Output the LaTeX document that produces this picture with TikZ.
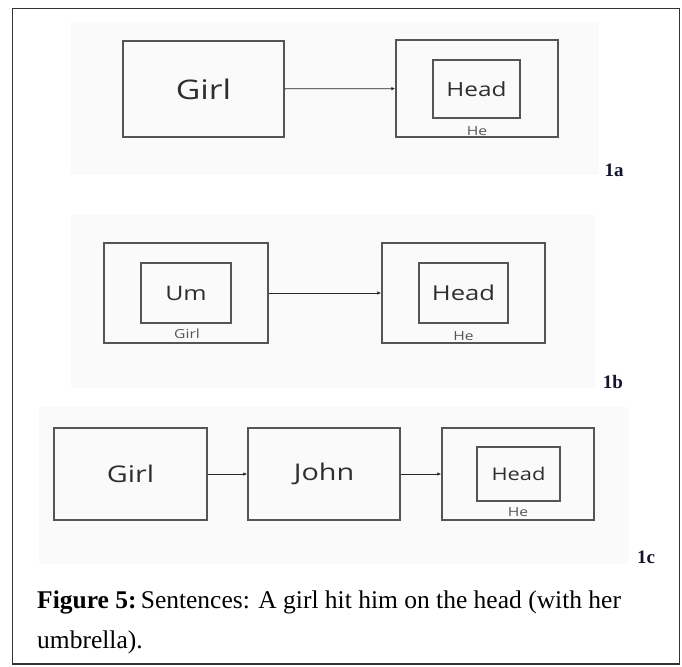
\documentclass[tikz,border=0pt]{standalone}
\usepackage{fontspec}
\setmainfont{Liberation Serif}
\newfontfamily\boxfont[FakeStretch=1.25]{Open Sans}
\usetikzlibrary{arrows.meta}
\definecolor{boxgray}{HTML}{555555}
\definecolor{txtgray}{HTML}{2E2E2E}
\definecolor{lblgray}{HTML}{555555}
\definecolor{panelgray}{HTML}{FAFAFA}
\definecolor{navy}{HTML}{14142E}

\begin{document}
\begin{tikzpicture}[
    x=1pt, y=-1pt,
    panel/.style={fill=panelgray},
    box/.style={
        rectangle,
        draw=boxgray,
        line width=1.5pt,
        inner sep=0pt,
        text=txtgray,
    },
    word/.style={box, font=\boxfont\fontsize{#1}{#1}\selectfont},
    sub/.style={inner sep=0pt, text=lblgray, font=\boxfont\fontsize{12.5}{12.5}\selectfont},
    tag/.style={inner sep=0pt, text=navy, font=\bfseries\fontsize{19}{19}\selectfont},
    arr/.style={-{Latex[length=4pt, width=3.5pt]}, line width=0.8pt, color=black!85}
]
\useasboundingbox (0,0) rectangle (682,666);
\draw[line width=1.2pt, color=black!80] (12.5,8.5) rectangle (679.5,664);

\fill[panel] (71,22) rectangle (599,175);
\fill[panel] (71,215) rectangle (595,388);
\fill[panel] (39,407) rectangle (629,564);

% 1a
\node[word=27, minimum width=161pt, minimum height=96pt] (girlA) at (203.5,89) {Girl};
\node[box, minimum width=162pt, minimum height=97pt] (heA) at (477,88.5) {};
\node[word=19.5, minimum width=87pt, minimum height=58pt] (headA) at (476.5,89) {Head};
\node[sub] (heAlbl) at (477,131) {He};
\node[tag] (labA) at (614,170) {1a};
\draw[arr] (girlA) -- (heA);

% 1b
\node[box, minimum width=164pt, minimum height=100pt] (girlB) at (186,293) {};
\node[word=20, minimum width=90pt, minimum height=60pt] (umB) at (186,293) {Um};
\node[sub] (girlBlbl) at (187,334) {Girl};
\node[box, minimum width=163pt, minimum height=100pt] (heB) at (463.5,293) {};
\node[word=20.5, minimum width=89pt, minimum height=60pt] (headB) at (463.5,293) {Head};
\node[sub] (heBlbl) at (463.5,336) {He};
\node[tag] (labB) at (613,382) {1b};
\draw[arr] (girlB) -- (heB);

% 1c
\node[word=23, minimum width=153pt, minimum height=92pt] (girlC) at (130.5,474) {Girl};
\node[word=23, minimum width=152pt, minimum height=92pt] (johnC) at (324,474) {John};
\node[box, minimum width=152pt, minimum height=92pt] (heC) at (518,474) {};
\node[word=17.5, minimum width=83pt, minimum height=54pt] (headC) at (518.5,474) {Head};
\node[sub] (heClbl) at (518,512) {He};
\node[tag] (labC) at (646,557) {1c};
\draw[arr] (girlC) -- (johnC);
\draw[arr] (johnC) -- (heC);

\node[anchor=north west, inner sep=0pt, align=left,
      font=\fontsize{25.5}{40}\selectfont] (cap) at (37,591)
  {\textbf{Figure 5:}\,Sentences: A girl hit him on the head (with her\\umbrella).};
\end{tikzpicture}
\end{document}
